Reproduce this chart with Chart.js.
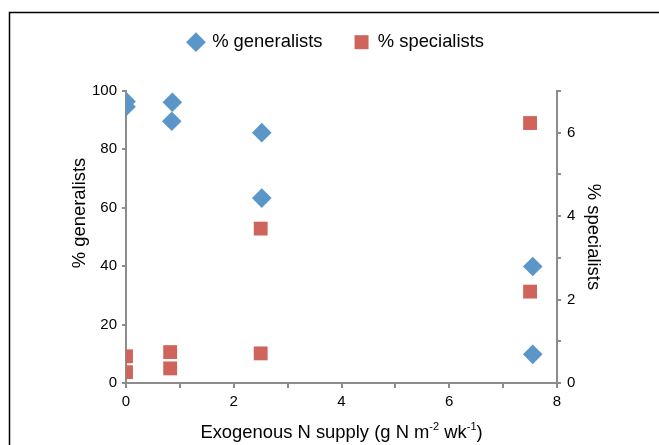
<!DOCTYPE html>
<html>
<head>
<meta charset="utf-8">
<script src="https://cdn.jsdelivr.net/npm/chart.js@4/dist/chart.umd.min.js"></script>
<style>
  html, body { margin: 0; padding: 0; background: #fff; }
  canvas { display: block; }
</style>
</head>
<body>
<canvas id="chart" width="659" height="445"></canvas>
<script>
const genSupply = [0, 0, 0.86, 0.85, 2.52, 2.52, 7.55, 7.55];
const generalists = [96.4, 94.6, 96.1, 89.6, 85.7, 63.3, 39.9, 9.8];
const specSupply = [0, 0, 0.82, 0.82, 2.5, 2.5, 7.5, 7.5];
const specialists = [0.64, 0.26, 0.74, 0.35, 0.71, 3.7, 6.23, 2.19];

const leftTicks = [0, 20, 40, 60, 80, 100];
const rightLabels = [0, 2, 4, 6];
const xLabels = [0, 2, 4, 6, 8];

const font = "'Liberation Sans', Arial, sans-serif";
const axisGrey = '#8c8c8c';
const blue = '#5b96c9';
const red = '#cf645c';

const toPoints = (xs, ys) => xs.map((x, i) => ({ x: x, y: ys[i] }));

// extra room under the legend so the plot starts lower
const legendSpace = {
  id: 'legendSpace',
  beforeInit(chart) {
    const fit = chart.legend.fit;
    chart.legend.fit = function () {
      fit.bind(chart.legend)();
      this.height += 29.5;
    };
  }
};

// frame lines + axis titles (x title has superscripts)
const decor = {
  id: 'decor',
  beforeDraw(chart) {
    const ctx = chart.ctx;
    ctx.save();
    ctx.strokeStyle = '#000';
    ctx.lineWidth = 1.5;
    ctx.beginPath();
    ctx.moveTo(9.5, 445);
    ctx.lineTo(9.5, 12.5);
    ctx.lineTo(659, 12.5);
    ctx.stroke();
    ctx.restore();
  },
  afterDraw(chart) {
    const ctx = chart.ctx;
    const a = chart.chartArea;
    const midY = (a.top + a.bottom) / 2;
    ctx.save();
    ctx.fillStyle = '#000';
    ctx.font = '18.4px ' + font;
    ctx.textAlign = 'center';
    ctx.textBaseline = 'middle';

    ctx.save();
    ctx.translate(a.left - 46, midY - 24);
    ctx.rotate(-Math.PI / 2);
    ctx.fillText('% generalists', 0, 0);
    ctx.restore();

    ctx.save();
    ctx.translate(a.right + 36, midY);
    ctx.rotate(Math.PI / 2);
    ctx.fillText('% specialists', 0, 0);
    ctx.restore();

    const parts = [
      ['Exogenous N supply (g N m', false],
      ['-2', true],
      [' wk', false],
      ['-1', true],
      [')', false]
    ];
    const big = '18.4px ' + font, small = '11px ' + font;
    let total = 0;
    parts.forEach(p => { ctx.font = p[1] ? small : big; total += ctx.measureText(p[0]).width; });
    let x = (a.left + a.right) / 2 - total / 2;
    ctx.textAlign = 'left';
    ctx.textBaseline = 'alphabetic';
    parts.forEach(p => {
      ctx.font = p[1] ? small : big;
      ctx.fillText(p[0], x, p[1] ? 430 : 438);
      x += ctx.measureText(p[0]).width;
    });
    ctx.restore();
  }
};

new Chart(document.getElementById('chart'), {
  type: 'scatter',
  data: {
    datasets: [
      {
        label: '% generalists',
        data: toPoints(genSupply, generalists),
        yAxisID: 'y',
        pointStyle: 'rectRot',
        pointRadius: 9.8,
        pointHoverRadius: 9.8,
        backgroundColor: blue,
        borderWidth: 0
      },
      {
        label: '% specialists',
        data: toPoints(specSupply, specialists),
        yAxisID: 'y2',
        pointStyle: 'rect',
        pointRadius: 9.8,
        pointHoverRadius: 9.8,
        backgroundColor: red,
        borderWidth: 0
      }
    ]
  },
  options: {
    responsive: false,
    animation: false,
    layout: { padding: { top: 1, left: 14, right: 0, bottom: 0 } },
    plugins: {
      tooltip: { enabled: false },
      legend: {
        position: 'top',
        labels: {
          usePointStyle: true,
          boxWidth: 14,
          boxHeight: 14,
          padding: 32,
          color: '#000',
          font: { family: font, size: 18.4 }
        }
      }
    },
    scales: {
      x: {
        type: 'linear',
        min: 0,
        max: 8,
        afterFit: s => { s.height = 62; },
        afterBuildTicks: s => { s.ticks = [0, 1, 2, 3, 4, 5, 6, 7, 8].map(v => ({ value: v })); },
        ticks: {
          color: '#000',
          padding: 5,
          maxRotation: 0,
          font: { family: font, size: 15 },
          callback: v => xLabels.includes(v) ? String(v) : ''
        },
        grid: { drawOnChartArea: false, color: axisGrey, lineWidth: 2, tickLength: 5 },
        border: { color: axisGrey, width: 2 }
      },
      y: {
        position: 'left',
        min: 0,
        max: 100,
        afterFit: s => { s.width = 112; },
        afterBuildTicks: s => { s.ticks = leftTicks.map(v => ({ value: v })); },
        ticks: { color: '#000', padding: 5, font: { family: font, size: 15 } },
        grid: { drawOnChartArea: false, color: axisGrey, lineWidth: 2, tickLength: 4 },
        border: { color: axisGrey, width: 2 }
      },
      y2: {
        position: 'right',
        min: 0,
        max: 7,
        afterFit: s => { s.width = 102; },
        afterBuildTicks: s => { s.ticks = [0, 1, 2, 3, 4, 5, 6, 7].map(v => ({ value: v })); },
        ticks: {
          color: '#000',
          padding: 6,
          font: { family: font, size: 15 },
          callback: v => rightLabels.includes(v) ? String(v) : ''
        },
        grid: { drawOnChartArea: false, color: axisGrey, lineWidth: 2, tickLength: 4 },
        border: { color: axisGrey, width: 2 }
      }
    }
  },
  plugins: [legendSpace, decor]
});
</script>
</body>
</html>
